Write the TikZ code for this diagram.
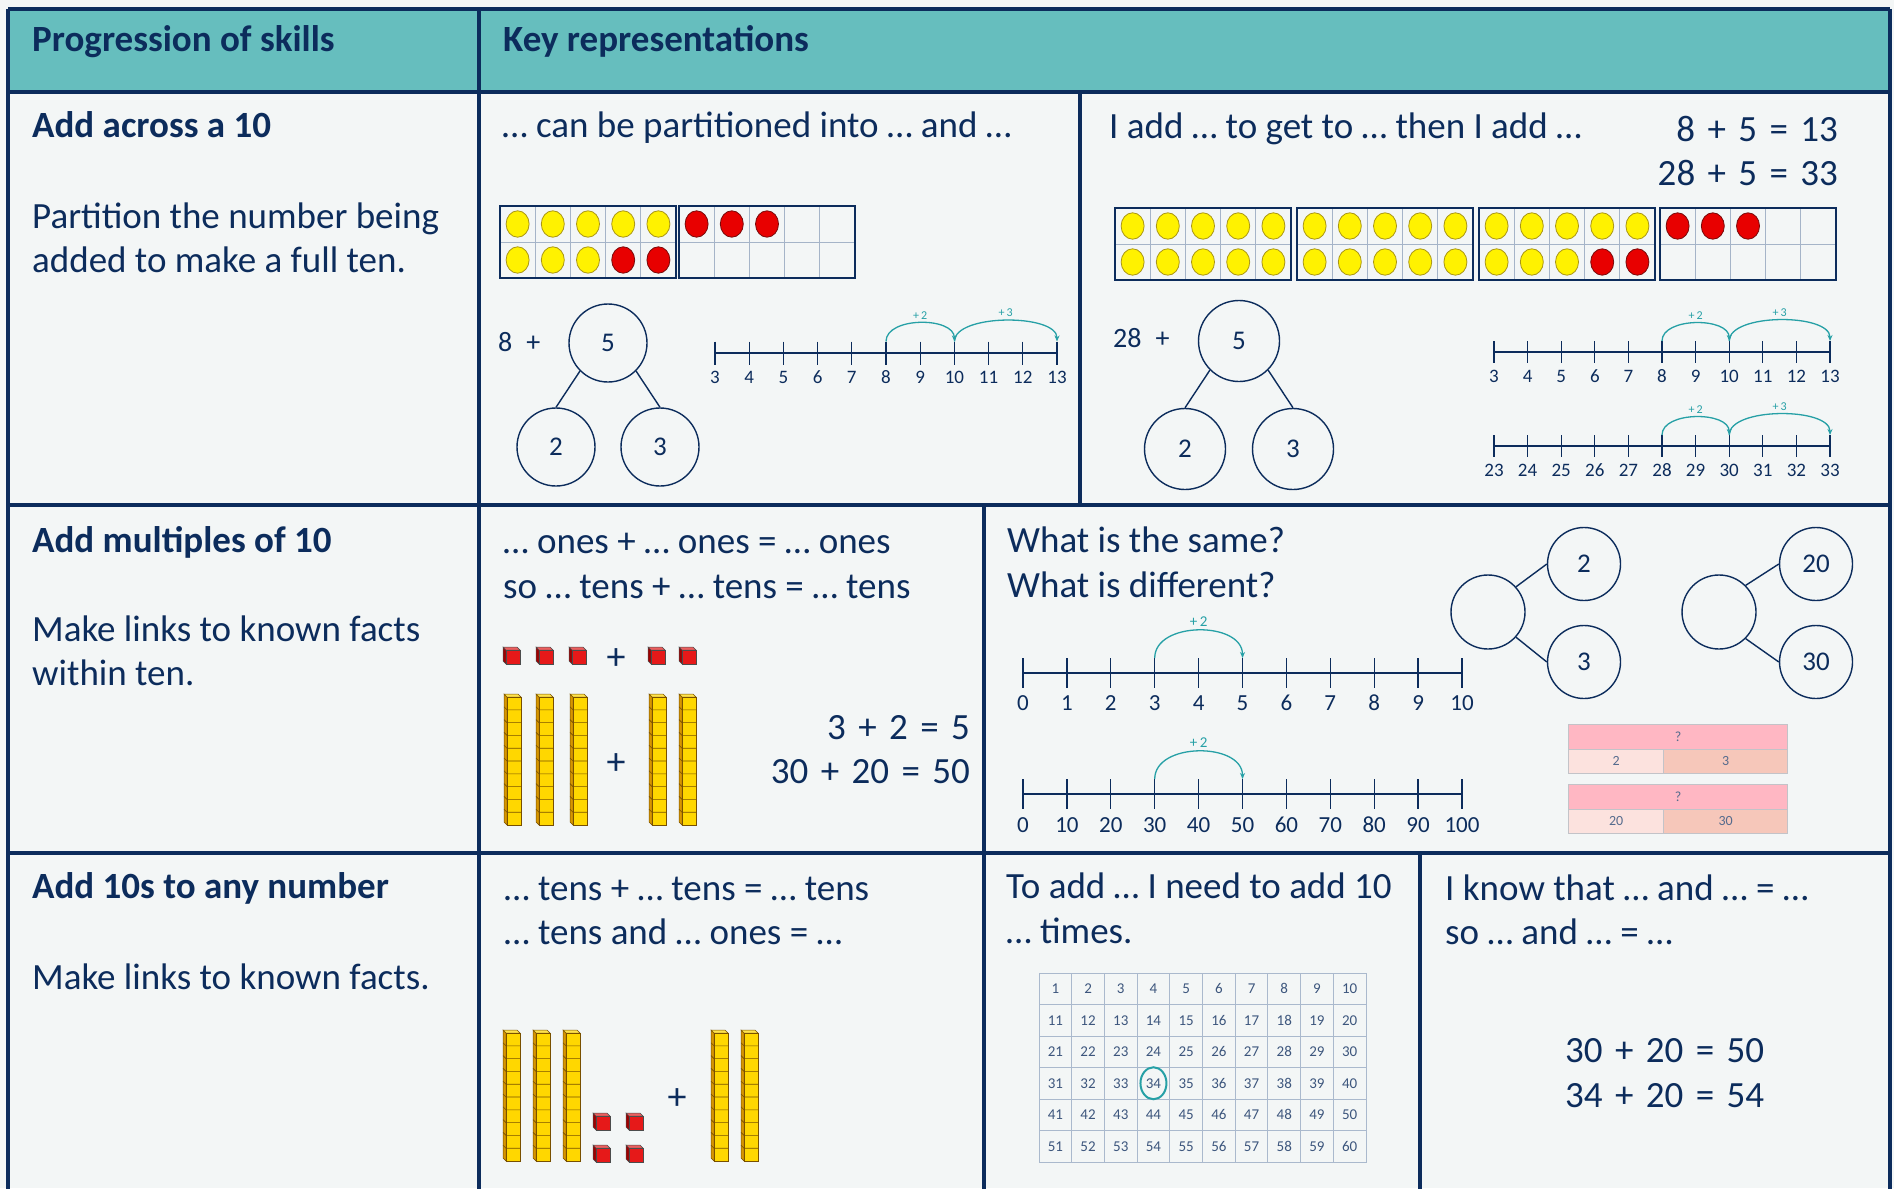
\documentclass[tikz,border=0pt]{standalone}
\usepackage{fontspec}
\setmainfont{Carlito}
\usetikzlibrary{arrows.meta}

\definecolor{navy}{RGB}{12,44,92}
\definecolor{headTeal}{RGB}{102,190,190}
\definecolor{paper}{RGB}{243,246,246}
\definecolor{jump}{RGB}{38,160,166}
\definecolor{frameGrid}{RGB}{165,180,200}
\definecolor{cntYellow}{RGB}{255,242,0}
\definecolor{cntYellowEdge}{RGB}{170,150,20}
\definecolor{cntRed}{RGB}{232,0,0}
\definecolor{cntRedEdge}{RGB}{120,10,10}
\definecolor{rodGold}{RGB}{255,215,0}
\definecolor{rodDark}{RGB}{215,150,0}
\definecolor{rodLine}{RGB}{120,80,0}
\definecolor{cubeRed}{RGB}{230,25,25}
\definecolor{cubeDark}{RGB}{160,0,0}
\definecolor{hsGrid}{RGB}{170,185,205}
\definecolor{barTop}{RGB}{255,183,195}
\definecolor{barLeft}{RGB}{252,226,222}
\definecolor{barRight}{RGB}{246,199,186}
\definecolor{barEdge}{RGB}{195,195,200}

\begin{document}
\begin{tikzpicture}
[x=1pt,y=-1pt,
  tableLine/.style={draw=navy,line width=4pt},
  headText/.style={anchor=base west,inner sep=0pt,text=navy,font=\fontsize{37}{44}\selectfont\bfseries},
  cellText/.style={anchor=base west,inner sep=0pt,text=navy,font=\fontsize{37}{44}\selectfont},
  sumText/.style={cellText,anchor=base east},
  frameOut/.style={draw=navy,line width=2pt},
  frameIn/.style={draw=frameGrid,line width=1pt},
  cntY/.style={fill=cntYellow,draw=cntYellowEdge,line width=0.8pt},
  cntR/.style={fill=cntRed,draw=cntRedEdge,line width=0.8pt},
  cntE/.style={},
  partCircle/.style={shape=circle,draw=navy,line width=1.4pt,inner sep=0pt,text=navy},
  partLine/.style={draw=navy,line width=1.4pt},
  numLine/.style={draw=navy,line width=1.3pt},
  tickLabel/.style={anchor=base,inner sep=0pt,text=navy},
  jumpArc/.style={draw=jump,line width=1.3pt,-{Stealth[length=6pt,width=5pt]}},
  jumpLabel/.style={text=jump,inner sep=3pt},
  rodSide/.style={fill=rodDark,draw=rodLine,line width=0.5pt},
  rodTop/.style={fill=rodGold!70!white,draw=rodLine,line width=0.5pt},
  rodFace/.style={fill=rodGold,draw=rodLine,line width=0.7pt},
  cubeSide/.style={fill=cubeDark,draw=black!70,line width=0.5pt},
  cubeTop/.style={fill=cubeRed!70!white,draw=black!70,line width=0.5pt},
  cubeFace/.style={fill=cubeRed,draw=black!70,line width=0.7pt},
  plusSign/.style={inner sep=0pt,text=navy,font=\fontsize{38}{38}\selectfont},
  hsCell/.style={draw=hsGrid,line width=1pt,inner sep=0pt,minimum width=32.7,minimum height=31.5,text=navy!80,font=\fontsize{15}{15}\selectfont},
  hsRing/.style={draw=jump,line width=2pt},
  barCell/.style={draw=barEdge,line width=1.2pt,inner sep=0pt,minimum height=24.5,anchor=north west,text=navy!70,font=\fontsize{14}{14}\selectfont}]
\useasboundingbox (0,0) rectangle (1894,1188);
\fill[paper] (0,0) rectangle (1894,1188);
\fill[headTeal] (8,9) rectangle (1890,92);

%% headings and texts
\node[headText] (head-skills) at (32,52) {Progression of skills};
\node[headText] (head-reps) at (503,52) {Key representations};
\foreach \tname/\x/\y/\txt in {
  skillA/32/137/Add across a 10, skillB/32/552/Add multiples of 10,
  skillC/32/898/Add 10s to any number}
  \node[headText] (\tname) at (\x,\y) {\txt};
\foreach \tname/\x/\y/\txt in {
  skillA-1/32/228/Partition the number being, skillA-2/32/272/added to make a full ten.,
  skillB-1/32/641/Make links to known facts, skillB-2/32/685/within ten.,
  skillC-1/32/989/Make links to known facts.,
  repA/502/137/… can be partitioned into … and …,
  repB/1109/139/I add … to get to … then I add …,
  repC-1/503/553/… ones + … ones = … ones, repC-2/503/598/so … tens + … tens = … tens,
  repD-1/1007/552/What is the same?, repD-2/1007/597/What is different?,
  repE-1/504/900/… tens + … tens = … tens, repE-2/504/944/… tens and … ones = …,
  repF-1/1006/898/To add … I need to add 10, repF-2/1006/943/… times.,
  repG-1/1445/900/I know that … and … = …, repG-2/1445/944/so … and … = …,
  sumG-1/1565/1062/30 \hspace{4pt}+\hspace{4pt} 20 \hspace{4pt}=\hspace{4pt} 50,
  sumG-2/1565/1107/34 \hspace{4pt}+\hspace{4pt} 20 \hspace{4pt}=\hspace{4pt} 54}
  \node[cellText] (\tname) at (\x,\y) {\txt};
\foreach \tname/\x/\y/\txt in {
  sumB-1/1838/141/8 \hspace{4pt}+\hspace{4pt} 5 \hspace{4pt}=\hspace{4pt} 13,
  sumB-2/1838/185/28 \hspace{4pt}+\hspace{4pt} 5 \hspace{4pt}=\hspace{4pt} 33,
  sumC-1/970/739/3 \hspace{4pt}+\hspace{4pt} 2 \hspace{4pt}=\hspace{4pt} 5,
  sumC-2/970/783/30 \hspace{4pt}+\hspace{4pt} 20 \hspace{4pt}=\hspace{4pt} 50}
  \node[sumText] (\tname) at (\x,\y) {\txt};

%% ten frames
\foreach \fx/\fy/\cnts in {
  500/206/{Y,Y,Y,Y,Y,Y,Y,Y,R,R}, 679/206/{R,R,R,E,E,E,E,E,E,E},
  1115/208/{Y,Y,Y,Y,Y,Y,Y,Y,Y,Y}, 1297/208/{Y,Y,Y,Y,Y,Y,Y,Y,Y,Y},
  1479/208/{Y,Y,Y,Y,Y,Y,Y,Y,R,R}, 1660/208/{R,R,R,E,E,E,E,E,E,E}}
{
  \foreach \k in {1,...,4}
    \draw[frameIn] (\fx+\k*35.2,\fy) -- (\fx+\k*35.2,\fy+72);
  \draw[frameIn] (\fx,\fy+36) -- (\fx+176,\fy+36);
  \draw[frameOut] (\fx,\fy) rectangle (\fx+176,\fy+72);
  \foreach \c [count=\i from 0] in \cnts
  {
    \pgfmathsetmacro\cx{\fx+17.6+35.2*mod(\i,5)}
    \pgfmathsetmacro\cy{\fy+18+36*floor(\i/5)}
    \path[cnt\c] (\cx,\cy) ellipse (11.5 and 13.2);
  }
}

%% part-whole models
\node[cellText,font=\fontsize{28}{28}\selectfont] (addA) at (498,351) {8\enspace+};
\node[cellText,font=\fontsize{28}{28}\selectfont] (addB) at (1113,347) {28\enspace+};
\foreach \pname/\x/\y/\d/\val in {
  pwA/608/343/78/5, pwA-l/556/447/78/2, pwA-r/660/447/78/3,
  pwB/1239/341/81/5, pwB-l/1185/449/81/2, pwB-r/1293/449/81/3,
  pwC/1488/612/74/, pwC-t/1584/564/73/2, pwC-b/1584/662/73/3,
  pwD/1719/612/74/, pwD-t/1816/564/73/20, pwD-b/1816/662/73/30}
  \node[partCircle,minimum size=\d,font=\fontsize{27}{27}\selectfont] (\pname) at (\x,\y) {\val};
\foreach \a/\ang/\b/\bang in {
  pwA/225/pwA-l/north, pwA/315/pwA-r/north, pwB/225/pwB-l/north, pwB/315/pwB-r/north,
  pwC/42/pwC-t/west, pwC/-42/pwC-b/west, pwD/45/pwD-t/west, pwD/-45/pwD-b/west}
  \draw[partLine] (\a.\ang) -- (\b.\bang);

%% number lines
\foreach \nl/\x/\y/\dx/\tk/\lb/\fs/\first/\inc in {
  nlA/715/353/34.2/11.5/383/19/3/1, nlB/1494/352/33.6/11/382/19/3/1,
  nlC/1494/446/33.6/11/476/19/23/1, nlD/1023/673/43.9/15/710/23/0/1,
  nlE/1023/794/43.9/15/832/23/0/10}
{
  \draw[numLine] (\x,\y) -- (\x+10*\dx,\y);
  \foreach \i in {0,...,10}
  {
    \pgfmathtruncatemacro\val{\first+\i*\inc}
    \draw[numLine] (\x+\i*\dx,\y-\tk) coordinate (\nl-\i) -- (\x+\i*\dx,\y+\tk);
    \node[tickLabel,font=\fontsize{\fs}{\fs}\selectfont] (\nl-lab-\i) at (\x+\i*\dx,\lb) {\val};
  }
}
\foreach \nl/\s/\e/\h/\lab/\fs in {
  nlA/5/7/25/2/12, nlA/7/10/28/3/12, nlB/5/7/24/2/12, nlB/7/10/28/3/12,
  nlC/5/7/24/2/12, nlC/7/10/28/3/12, nlD/3/5/37/2/15, nlE/3/5/37/2/15}
  \draw[jumpArc] (\nl-\s) .. controls +(0,-\h) and +(0,-\h) .. (\nl-\e)
    node[jumpLabel,midway,above,font=\fontsize{\fs}{\fs}\selectfont] {+\,\lab};

%% base ten rods and ones
\foreach \rx/\ry in {504/694, 536/694, 570/694, 649/694, 679/694,
  503/1030, 533/1030, 563/1030, 711/1030, 741/1030}
{
  \path[rodSide] (\rx+3,\ry+3) -- (\rx,\ry) -- (\rx,\ry+128) -- (\rx+3,\ry+131) -- cycle;
  \path[rodTop] (\rx+3,\ry+3) -- (\rx,\ry) -- (\rx+14,\ry) -- (\rx+17,\ry+3) -- cycle;
  \path[rodFace] (\rx+3,\ry+3) rectangle (\rx+17,\ry+131);
  \foreach \k in {1,...,9}
    \draw[rodLine,line width=0.6pt] (\rx,\ry+\k*12.8) -- (\rx+3,\ry+3+\k*12.8) -- (\rx+17,\ry+3+\k*12.8);
}
\foreach \ux/\uy in {503/647, 536/647, 569/647, 648/647, 679/647,
  593/1113, 626/1113, 593/1145, 626/1145}
{
  \path[cubeSide] (\ux+3,\uy+3) -- (\ux,\uy) -- (\ux,\uy+14) -- (\ux+3,\uy+17) -- cycle;
  \path[cubeTop] (\ux+3,\uy+3) -- (\ux,\uy) -- (\ux+14,\uy) -- (\ux+17,\uy+3) -- cycle;
  \path[cubeFace] (\ux+3,\uy+3) rectangle (\ux+17,\uy+17);
}
\node[plusSign] (plusC-1) at (616,659) {+};
\node[plusSign] (plusC-2) at (616,764) {+};
\node[plusSign] (plusE) at (677,1099) {+};

%% hundred square
\foreach \n in {1,...,60}
{
  \pgfmathtruncatemacro\col{mod(\n-1,10)}
  \pgfmathtruncatemacro\row{floor((\n-1)/10)}
  \node[hsCell] (hs-\n) at (1039+32.7*\col+16.35,973+31.5*\row+15.75) {\n};
}
\draw[hsRing] (hs-34) ellipse (13 and 16);

%% bar models
\foreach \bname/\by/\whole/\pa/\pb in {barA/724/?/2/3, barB/784/?/20/30}
{
  \node[barCell,fill=barTop,minimum width=219] (\bname-top) at (1568,\by) {\whole};
  \node[barCell,fill=barLeft,minimum width=95] (\bname-l) at (1568,\by+24.5) {\pa};
  \node[barCell,fill=barRight,minimum width=124] (\bname-r) at (1663,\by+24.5) {\pb};
}

%% table rules
\draw[tableLine] (8,9) -- (1890,9);
\foreach \y in {92,505,853}
  \draw[tableLine] (8,\y) -- (1890,\y);
\foreach \x in {8,479,1890}
  \draw[tableLine] (\x,9) -- (\x,1190);
\draw[tableLine] (1080,92) -- (1080,505);
\draw[tableLine] (984,505) -- (984,1190);
\draw[tableLine] (1420,853) -- (1420,1190);
\end{tikzpicture}
\end{document}
